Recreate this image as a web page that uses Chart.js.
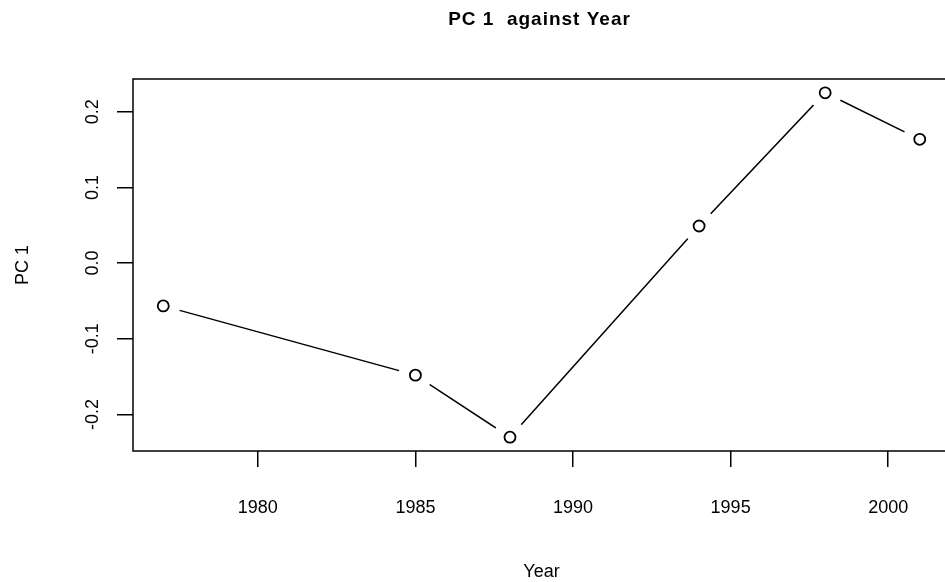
<!DOCTYPE html>
<html><head><meta charset="utf-8">
<script src="https://cdn.jsdelivr.net/npm/chart.js@4/dist/chart.umd.min.js"></script>
<style>html,body{margin:0;padding:0;overflow:hidden;background:#fff;width:945px;height:582px}canvas{display:block}</style>
</head><body>
<canvas id="c" width="950" height="582" style="width:950px;height:582px"></canvas>
<script>
const years = [1977, 1985, 1988, 1994, 1998, 2001];
const pc1 = [-0.0565, -0.148, -0.230, 0.049, 0.225, 0.1635];
const xTicks = [1980, 1985, 1990, 1995, 2000];
const yTicks = [-0.2, -0.1, 0.0, 0.1, 0.2];
const titleText = 'PC 1  against Year';
const xTitle = 'Year';
const yTitle = 'PC 1';
const FAM = "'Liberation Sans', Arial, Helvetica, sans-serif";

const pts = years.map((y, i) => ({x: y, y: pc1[i]}));

const boxAndTitle = {
  id: 'boxAndTitle',
  afterDatasetsDraw(chart) {
    const {ctx, chartArea: a} = chart;
    ctx.save();
    ctx.strokeStyle = '#000';
    ctx.lineWidth = 1.5;
    ctx.strokeRect(a.left, a.top, a.right - a.left, a.bottom - a.top);
    ctx.restore();
  },
  afterDraw(chart) {
    const {ctx, chartArea: a} = chart;
    ctx.save();
    ctx.fillStyle = '#000';
    ctx.font = "bold 19px " + FAM;
    ctx.textAlign = 'center';
    ctx.textBaseline = 'alphabetic';
    try { ctx.letterSpacing = '1px'; } catch (e) {}
    ctx.fillText(titleText, (a.left + a.right) / 2 - 2, 25);
    ctx.restore();
  }
};

new Chart(document.getElementById('c'), {
  type: 'line',
  data: {
    datasets: [
      { data: pts, showLine: false, pointRadius: 5.5, pointBorderWidth: 1.8,
        pointBorderColor: '#000', pointBackgroundColor: '#fff', pointStyle: 'circle' },
      { data: pts, showLine: false, pointRadius: 17, pointBorderWidth: 0,
        pointBackgroundColor: '#fff', pointBorderColor: '#fff' },
      { data: pts, showLine: true, borderColor: '#000', borderWidth: 1.5, tension: 0,
        pointRadius: 0, fill: false }
    ]
  },
  plugins: [boxAndTitle],
  options: {
    responsive: false, animation: false, devicePixelRatio: 1,
    layout: { autoPadding: false, padding: { left: 0, right: 0, top: 79, bottom: 0 } },
    plugins: { legend: { display: false }, tooltip: { enabled: false }, title: { display: false } },
    scales: {
      x: {
        type: 'linear', position: 'bottom', min: 1976.04, max: 2001.96,
        afterBuildTicks: s => { s.ticks = xTicks.map(v => ({ value: v })); },
        afterFit: s => { s.height = 131; s.paddingLeft = 0; s.paddingRight = 0; },
        grid: { display: true, drawOnChartArea: false, drawTicks: true, tickLength: 16, color: '#000', lineWidth: 1.5 },
        border: { display: false },
        ticks: { color: '#000', font: { family: FAM, size: 18 }, padding: 30, minRotation: 0, maxRotation: 0,
          autoSkip: false, callback: v => String(v) },
        title: { display: true, text: xTitle, color: '#000', font: { family: FAM, size: 18 }, padding: { top: 0, bottom: -1 } }
      },
      y: {
        type: 'linear', position: 'left', min: -0.2482, max: 0.2432,
        afterBuildTicks: s => { s.ticks = yTicks.map(v => ({ value: v })); },
        afterFit: s => { s.width = 133; s.paddingTop = 0; s.paddingBottom = 0; },
        grid: { display: true, drawOnChartArea: false, drawTicks: true, tickLength: 16, color: '#000', lineWidth: 1.5 },
        border: { display: false },
        ticks: { color: '#000', font: { family: FAM, size: 18 }, padding: 8, minRotation: 90, maxRotation: 90,
          crossAlign: 'center', autoSkip: false,
          callback: v => { const t = Number(v).toFixed(1); return t === '-0.0' ? '0.0' : t; } },
        title: { display: true, text: yTitle, color: '#000', font: { family: FAM, size: 18 }, padding: { top: 12, bottom: 0 } }
      }
    }
  }
});
</script>
</body></html>
